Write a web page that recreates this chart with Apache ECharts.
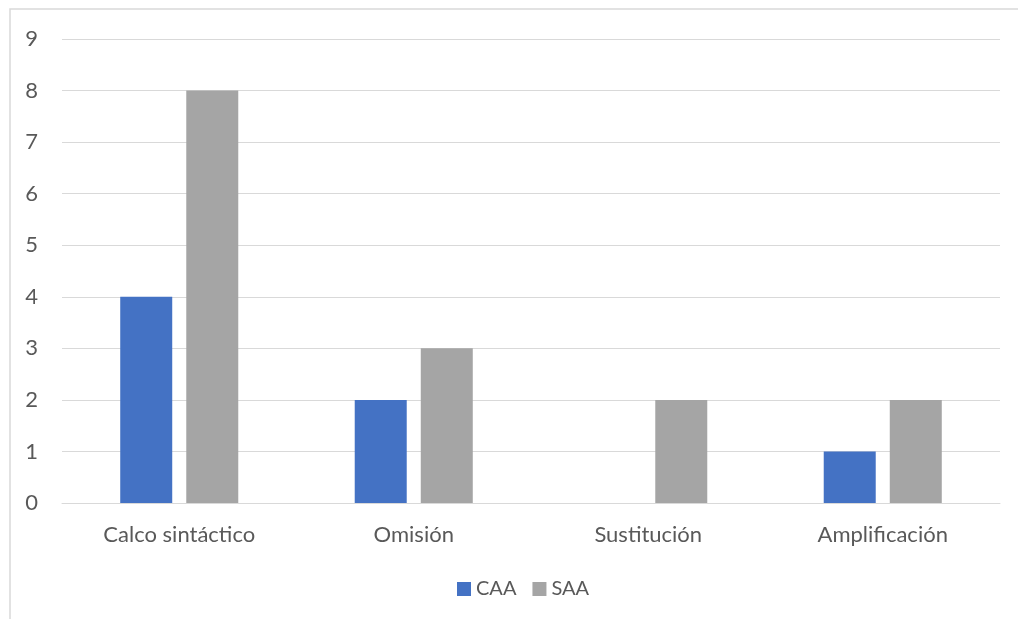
<!DOCTYPE html>
<html>
<head>
<meta charset="utf-8">
<script src="https://cdn.jsdelivr.net/npm/echarts@6/dist/echarts.min.js"></script>
<style>
  html, body { margin: 0; padding: 0; background: #fff; }
  #chart { width: 1018px; height: 619px; }
</style>
</head>
<body>
<div id="chart"></div>
<script>
// Categories and counts per technique
const categories = ['Calco sintáctico', 'Omisión', 'Sustitución', 'Amplificación'];
const caaValues = [4, 2, 0, 1];
const saaValues = [8, 3, 2, 2];
const yTicks = { min: 0, max: 9, interval: 1 };

const font = 'Lato, "Open Sans", sans-serif';
const textColor = '#595959';

const chart = echarts.init(document.getElementById('chart'));
chart.setOption({
  animation: false,
  backgroundColor: '#ffffff',
  graphic: [{
    type: 'rect',
    shape: { x: 10, y: 9, width: 1100, height: 700 },
    style: { fill: 'none', stroke: '#d9d9d9', lineWidth: 1.5 },
    silent: true
  }],
  grid: { left: 62, right: 18, top: 39, bottom: 116, containLabel: false },
  legend: {
    bottom: 15,
    left: 452,
    itemWidth: 14,
    itemHeight: 14,
    itemGap: 16,
    icon: 'rect',
    textStyle: { fontFamily: font, fontSize: 20, color: textColor },
    data: ['CAA', 'SAA']
  },
  xAxis: {
    type: 'category',
    data: categories,
    axisLine: { lineStyle: { color: '#d9d9d9', width: 1 } },
    axisTick: { show: false },
    axisLabel: { fontFamily: font, fontSize: 22, color: textColor, margin: 21 }
  },
  yAxis: {
    type: 'value',
    min: yTicks.min,
    max: yTicks.max,
    interval: yTicks.interval,
    axisLine: { show: false },
    axisTick: { show: false },
    splitLine: { lineStyle: { color: '#d9d9d9', width: 1 } },
    axisLabel: { fontFamily: font, fontSize: 22, color: textColor, margin: 24 }
  },
  series: [
    {
      name: 'CAA', type: 'bar', data: caaValues,
      itemStyle: { color: '#4472c4' },
      barWidth: 52, barGap: '27%'
    },
    {
      name: 'SAA', type: 'bar', data: saaValues,
      itemStyle: { color: '#a5a5a5' },
      barWidth: 52, barGap: '27%'
    }
  ]
});
</script>
</body>
</html>
